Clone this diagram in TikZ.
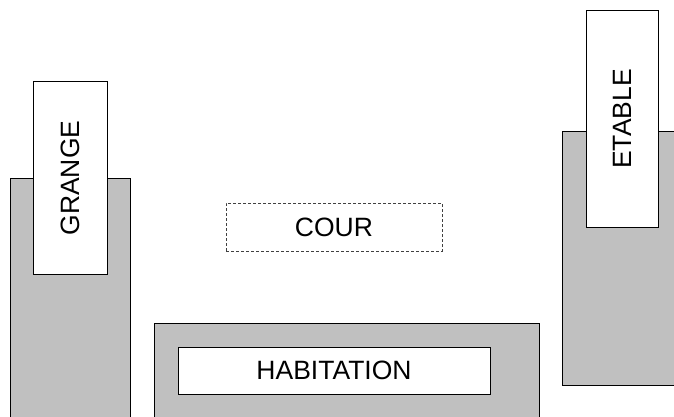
\documentclass[tikz,border=0pt]{standalone}
\usepackage{fontspec}
\setmainfont{Liberation Sans}
\definecolor{batigris}{HTML}{C0C0C0}
\begin{document}
\begin{tikzpicture}[x=1pt, y=-1pt, every node/.style={draw, line width=1pt, inner sep=0pt, font=\fontsize{26.5}{30}\selectfont},
  batiment/.style={fill=batigris},
  etiquette/.style={fill=white}]
            \useasboundingbox (0,0) rectangle (674,417);
            \clip (0,0) rectangle (674,417);
            \node[batiment, minimum width=120, minimum height=252] (grange) at (70,304) {};
            \node[batiment, minimum width=128, minimum height=254] (etable) at (626,258) {};
            \node[batiment, minimum width=385, minimum height=117] (habitation) at (346.5,381.5) {};

            \node[etiquette, rotate=90, minimum width=192, minimum height=74] (lgrange) at (70,178) {GRANGE};
            \node[etiquette, rotate=90, minimum width=216, minimum height=72] (letable) at (622,119) {ETABLE};
            \node[etiquette, minimum width=312, minimum height=47] (lhabitation) at (334,370.5) {HABITATION};
            \node[draw=black!75, line width=0.6pt, dash pattern=on 3pt off 2pt, minimum width=216, minimum height=48] (cour) at (334,227) {COUR};
            \end{tikzpicture}
\end{document}
